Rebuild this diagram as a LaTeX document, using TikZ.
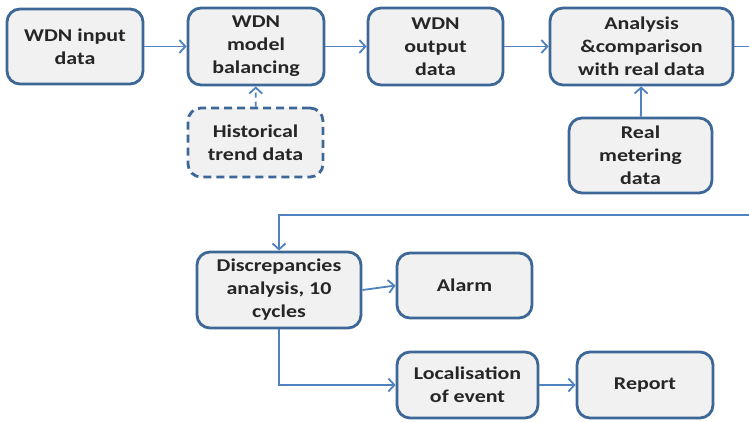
\documentclass[tikz,border=0pt]{standalone}
\usepackage{fontspec}
\setmainfont{Carlito}[FakeStretch=1.22]
\usetikzlibrary{arrows.meta}
\definecolor{boxline}{HTML}{3D6796}
\definecolor{boxfill}{HTML}{F1F1F1}
\definecolor{linkline}{HTML}{5082C0}

\begin{document}
\begin{tikzpicture}[x=1pt,y=-1pt,
    blk/.style={draw=boxline, line width=2.8pt, rounded corners=13pt, fill=boxfill,
      align=center, inner sep=1pt, text=black!85,
      font=\fontsize{18}{23}\selectfont\bfseries},
    link/.style={draw=linkline, line width=1.8pt, -{Straight Barb[length=6pt,width=13pt]}}]
  \useasboundingbox (0,0) rectangle (749,421);
  \clip (0,0) rectangle (749,421);
  \node[blk, minimum width=136pt, minimum height=75pt] (in) at (75,46.5) {WDN input\\data};
  \node[blk, minimum width=136pt, minimum height=77pt] (bal) at (256,46.5) {WDN\\model\\balancing};
  \node[blk, dash pattern=on 8pt off 5pt, minimum width=135pt, minimum height=69pt] (hist) at (255.5,142.5) {Historical\\trend data};
  \node[blk, minimum width=135pt, minimum height=77pt] (out) at (435.5,46.5) {WDN\\output\\data};
  \node[blk, minimum width=183pt, minimum height=77pt] (ana) at (641.5,46.5) {Analysis\\\&comparison\\with real data};
  \node[blk, minimum width=143pt, minimum height=75pt] (real) at (640.5,155.5) {Real\\metering\\data};
  \node[blk, minimum width=164pt, minimum height=76pt] (disc) at (279,290) {Discrepancies\\analysis, 10\\cycles};
  \node[blk, minimum width=135pt, minimum height=65pt] (alarm) at (464.5,285.5) {Alarm};
  \node[blk, minimum width=141pt, minimum height=66pt] (loc) at (467.5,385) {Localisation\\of event};
  \node[blk, minimum width=136pt, minimum height=66pt] (rep) at (645,385) {Report};
  \coordinate (back) at (779,215);
  \draw[link] (in) -- (bal);
  \draw[link] (bal) -- (out);
  \draw[link] (out) -- (ana);
  \draw[link, dash pattern=on 5pt off 4pt] (hist) -- (bal);
  \draw[link] (real) -- (ana);
  \draw[link] (ana.east) -| (back) -| (disc.north);
  \draw[link] (disc.east) -- (alarm.west);
  \draw[link] (disc.south) |- (loc.west);
  \draw[link] (loc) -- (rep);
\end{tikzpicture}
\end{document}
